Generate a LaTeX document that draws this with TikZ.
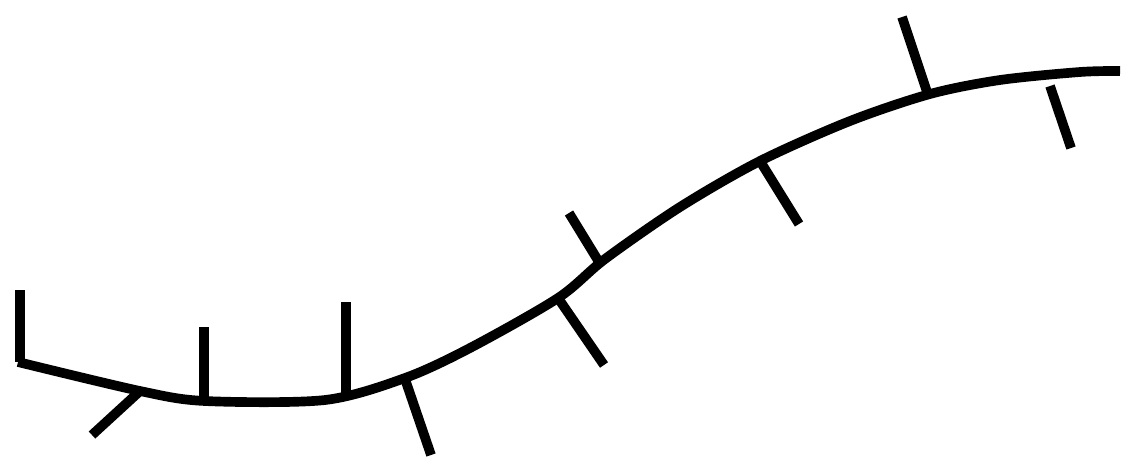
\documentclass[tikz,border=0pt]{standalone}
\begin{document}
\begin{tikzpicture}[x=0.02cm,y=-0.02cm,line width=5.5pt]
\useasboundingbox (0,0) rectangle (1141,467);
\draw (20,290) -- (20,362);
\draw[line join=round] plot[smooth,tension=0.5] coordinates {(18,362) (140,391) (205,401) (325,400) (405,378) (470,348) (558,298) (605,259) (680,207) (760,161) (850,121) (930,94) (1000,80) (1080,72) (1120,71)};
\draw (140,391) -- (92,435);
\draw (204,401) -- (204,327);
\draw (346,396) -- (346,302);
\draw (405,379) -- (431,455);
\draw (599,262) -- (569,213);
\draw (558,298) -- (604,365);
\draw (760,161) -- (799,224);
\draw (928,95) -- (902,17);
\draw (1050,86) -- (1071,148);
\end{tikzpicture}
\end{document}
